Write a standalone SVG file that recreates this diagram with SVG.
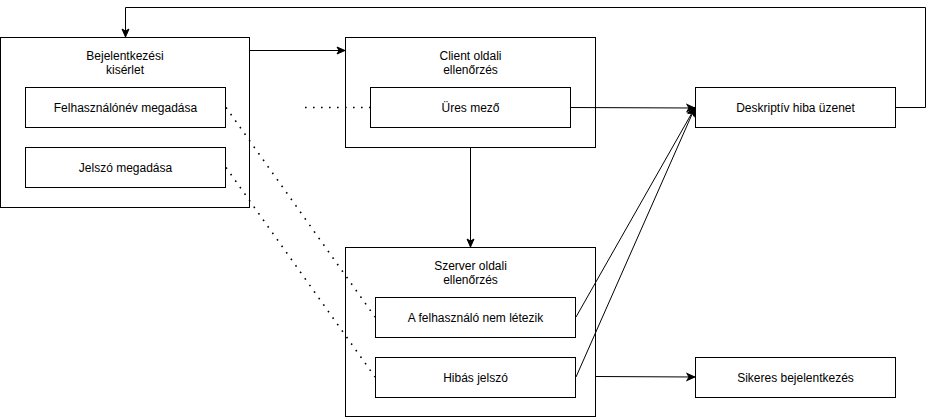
<svg xmlns="http://www.w3.org/2000/svg" width="934" height="419" viewBox="0 0 934 419">
<style>
.box{fill:#fff;stroke:#000;stroke-width:1}
.t{font-family:"Liberation Sans",Arial,sans-serif;font-size:12px;fill:#000;text-anchor:middle}
.e{fill:none;stroke:#000;stroke-width:1}
.d{fill:none;stroke:#000;stroke-width:1.6;stroke-dasharray:1.6 6.4}
</style>
<defs>
<marker id="a" markerUnits="userSpaceOnUse" markerWidth="10" markerHeight="10" viewBox="0 0 10 10" refX="9" refY="5" orient="auto">
<path d="M1,1.5 L9,5 L1,8.5 L3,5 Z" fill="#000" stroke="#000" stroke-width="1"/>
</marker>
</defs>
<rect width="934" height="419" fill="#fff"/>
<g id="n-bejelentkezes">
<rect class="box" x="0.5" y="37.5" width="249" height="170"/>
<text class="t" x="125" y="60">Bejelentkezési</text>
<text class="t" x="125" y="74">kisérlet</text>
</g>
<g id="n-felhasznalonev">
<rect class="box" x="25.5" y="87.5" width="200" height="40"/>
<text class="t" x="125.5" y="111.5">Felhasználónév megadása</text>
</g>
<g id="n-jelszo">
<rect class="box" x="25.5" y="147.5" width="200" height="40"/>
<text class="t" x="125.5" y="171.5">Jelszó megadása</text>
</g>
<g id="n-client">
<rect class="box" x="345.5" y="37.5" width="250" height="110"/>
<text class="t" x="470.5" y="60">Client oldali</text>
<text class="t" x="470.5" y="74">ellenőrzés</text>
</g>
<g id="n-ures">
<rect class="box" x="370.5" y="87.5" width="200" height="40"/>
<text class="t" x="470.5" y="111.5">Üres mező</text>
</g>
<g id="n-szerver">
<rect class="box" x="345.5" y="247.5" width="250" height="169"/>
<text class="t" x="470.5" y="270">Szerver oldali</text>
<text class="t" x="470.5" y="284">ellenőrzés</text>
</g>
<g id="n-nemletezik">
<rect class="box" x="375.5" y="297.5" width="200" height="40"/>
<text class="t" x="475.5" y="321.5">A felhasználó nem létezik</text>
</g>
<g id="n-hibas">
<rect class="box" x="375.5" y="357.5" width="200" height="40"/>
<text class="t" x="475.5" y="381.5">Hibás jelszó</text>
</g>
<g id="n-deskriptiv">
<rect class="box" x="695.5" y="87.5" width="200" height="40"/>
<text class="t" x="795.5" y="111.5">Deskriptív hiba üzenet</text>
</g>
<g id="n-sikeres">
<rect class="box" x="695.5" y="357.5" width="200" height="40"/>
<text class="t" x="795.5" y="381.5">Sikeres bejelentkezés</text>
</g>
<g id="connectors">
<path class="e" d="M896,107.5 H925.5 V7.5 H125.5 V37" marker-end="url(#a)"/>
<path class="e" d="M250,50.5 H345" marker-end="url(#a)"/>
<path class="e" d="M571,107.5 L695,108" marker-end="url(#a)"/>
<path class="e" d="M470.5,148 V247" marker-end="url(#a)"/>
<path class="e" d="M576,317 L695,107.5" marker-end="url(#a)"/>
<path class="e" d="M576,377 L695,107.5" marker-end="url(#a)"/>
<path class="e" d="M596,376.5 L695,377" marker-end="url(#a)"/>
<path class="d" d="M305,107.5 H370"/>
<path class="d" d="M226,107.5 L375,317"/>
<path class="d" d="M226,167.5 L375,377"/>
</g>
</svg>
